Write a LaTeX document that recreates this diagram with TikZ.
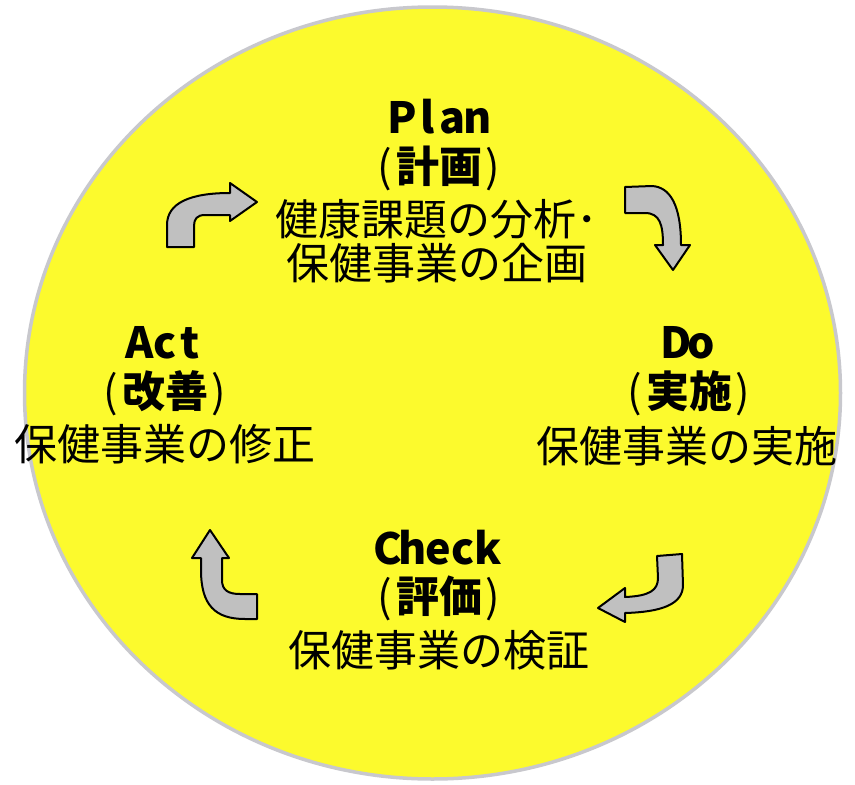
\documentclass[tikz,border=0pt]{standalone}
\usepackage{fontspec}
\setmainfont{Noto Sans CJK JP}
\definecolor{bgyellow}{RGB}{252,250,45}
\definecolor{arrowgray}{RGB}{192,192,192}
\definecolor{rimgray}{RGB}{200,200,205}
\newcommand\mc[1]{\makebox[0.58em][c]{#1}}
\newcommand\pc[1]{\makebox[0.5em][c]{\mdseries #1}}
\tikzset{
  lbl/.style={inner sep=0pt, font=\fontsize{43}{50}\selectfont},
  hdr/.style={inner sep=0pt, font=\fontsize{43}{50}\selectfont\bfseries},
  bentarrow/.style={fill=arrowgray, draw=black, line width=2pt, line join=round}
}
\begin{document}
\begin{tikzpicture}[x=1pt,y=-1pt]
\useasboundingbox (0,0) rectangle (855,785);
\fill[white] (0,0) rectangle (855,785);
% big circle
\draw[rimgray, line width=3.5pt, fill=bgyellow] (432.5,393) ellipse [x radius=408, y radius=386];

% Plan
\node[hdr] (planA) at (440,117) {\mc{P}\mc{l}\mc{a}\mc{n}};
\node[hdr] (planB) at (439,168) {\pc{(}計画\pc{)}};
\node[lbl] (planC) at (437,219) {健康課題の分析･};
\node[lbl] (planD) at (437,263) {保健事業の企画};

% Do
\node[hdr] (doA) at (689,343) {\mc{D}\mc{o}};
\node[hdr] (doB) at (689,393) {\pc{(}実施\pc{)}};
\node[lbl] (doC) at (687,446) {保健事業の実施};

% Act
\node[hdr] (actA) at (165,343) {\mc{A}\mc{c}\mc{t}};
\node[hdr] (actB) at (165,393) {\pc{(}改善\pc{)}};
\node[lbl] (actC) at (165,444) {保健事業の修正};

% Check
\node[hdr] (chkA) at (438,548) {\mc{C}\mc{h}\mc{e}\mc{c}\mc{k}};
\node[hdr] (chkB) at (439,598) {\pc{(}評価\pc{)}};
\node[lbl] (chkC) at (439,650) {保健事業の検証};

% arrow Act -> Plan
\draw[bentarrow] (167,247) -- (167,225) .. controls (167,203) and (190,193) .. (230,193)
  -- (230,183) -- (257,202) -- (230,221) -- (230,215) -- (205,215)
  .. controls (197,215) and (194,219) .. (194,226) -- (194,247) -- cycle;
% arrow Plan -> Do
\draw[bentarrow] (625,187) -- (652,186) .. controls (670,187) and (681,205) .. (681,245)
  -- (690,245) -- (673,270) -- (655,245) -- (663,245)
  .. controls (663,225) and (660,213) .. (645,213) -- (625,213) -- cycle;
% arrow Do -> Check
\draw[bentarrow] (657,556) -- (682,554) -- (683,585) .. controls (683,605) and (660,612) .. (625,613)
  -- (625,622) -- (598,608) -- (625,588) -- (625,597)
  .. controls (650,596) and (658,590) .. (658,578) -- cycle;
% arrow Check -> Act
\draw[bentarrow] (257,619) -- (245,619) .. controls (215,619) and (201,605) .. (201,570)
  -- (201,558) -- (192,558) -- (210,530) -- (229,558) -- (222,558) -- (222,580)
  .. controls (222,590) and (228,594) .. (240,594) -- (257,594) -- cycle;
\end{tikzpicture}
\end{document}
